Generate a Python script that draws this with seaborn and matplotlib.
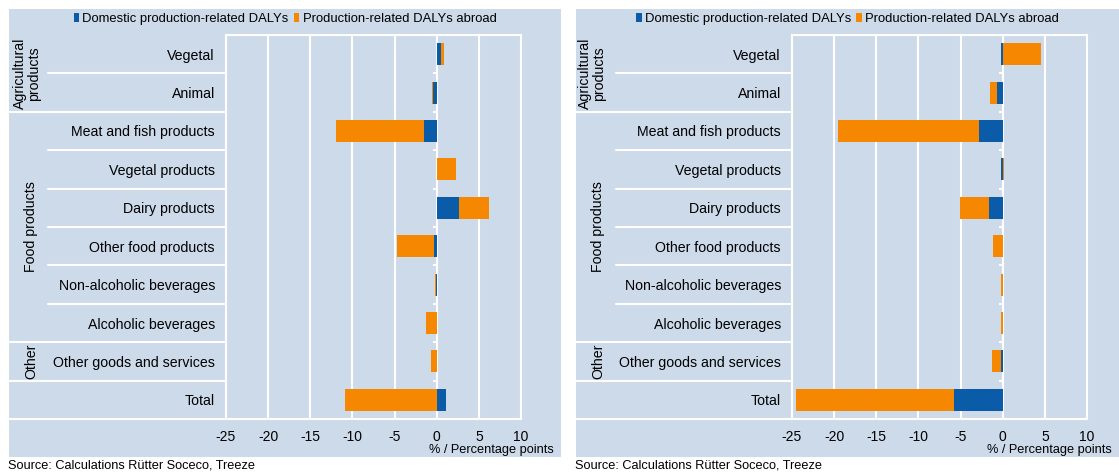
import matplotlib
matplotlib.use("Agg")
import matplotlib.pyplot as plt
import matplotlib.transforms as mtransforms
from matplotlib.patches import Rectangle, Patch
import numpy as np
import pandas as pd
import seaborn as sns

# ---- data (percentage points) ----
categories = [
    "Vegetal", "Animal", "Meat and fish products", "Vegetal products",
    "Dairy products", "Other food products", "Non-alcoholic beverages",
    "Alcoholic beverages", "Other goods and services", "Total",
]
groups = [("Agricultural\nproducts", 0, 1), ("Food products", 2, 7), ("Other", 8, 8)]

left_domestic = [0.5, -0.4, -1.5, 0.05, 2.6, -0.35, -0.03, 0.0, 0.0, 1.1]
left_abroad = [0.4, -0.2, -10.5, 2.2, 3.6, -4.35, -0.17, -1.3, -0.7, -10.9]

right_domestic = [-0.2, -0.7, -2.8, -0.2, -1.65, 0.0, 0.0, 0.0, -0.15, -5.75]
right_abroad = [4.5, -0.8, -16.7, 0.1, -3.4, -1.1, -0.2, -0.2, -1.1, -18.8]

x_ticks = [-25, -20, -15, -10, -5, 0, 5, 10]
series_names = ["Domestic production-related DALYs", "Production-related DALYs abroad"]
source_note = "Source: Calculations Rütter Soceco, Treeze"
x_label = "% / Percentage points"

# ---- style ----
BLUE = "#0a5ca8"
ORANGE = "#f58800"
BG = "#cddaea"
W, H = 1119, 472

sns.set_style("white")
plt.rcParams["font.family"] = ["Liberation Sans", "DejaVu Sans"]
plt.rcParams["axes.unicode_minus"] = False
plt.rcParams["text.color"] = "black"
plt.rcParams["xtick.color"] = "black"
plt.rcParams["ytick.color"] = "black"
plt.rcParams["xtick.labelcolor"] = "black"
plt.rcParams["ytick.labelcolor"] = "black"

fig = plt.figure(figsize=(W / 100, H / 100), dpi=100, facecolor="white")


def px_box(x0, y0, x1, y1):
    """Convert a pixel box (top-left origin) to figure fractions."""
    return [x0 / W, (H - y1) / H, (x1 - x0) / W, (y1 - y0) / H]


def stacked_frame(dom, abr):
    dom = np.asarray(dom, float)
    abr = np.asarray(abr, float)
    same = np.sign(dom) == np.sign(abr)
    # abroad part sits on top of the domestic part when both share a sign
    outer = abr + np.where(same, dom, 0.0)
    return pd.DataFrame({"category": categories, "domestic": dom, "outer": outer})


def draw_panel(panel_px, ax_px, dom, abr, grp_x_two, grp_x_one, sep_short_px, sep_long_px):
    # panel background
    bx = px_box(*panel_px)
    fig.patches.append(Rectangle((bx[0], bx[1]), bx[2], bx[3], transform=fig.transFigure,
                                 facecolor=BG, edgecolor="none", zorder=-5))
    ax = fig.add_axes(px_box(*ax_px))
    ax.set_facecolor(BG)
    df = stacked_frame(dom, abr)

    sns.barplot(data=df, x="outer", y="category", orient="h", color=ORANGE,
                saturation=1, width=0.57, edgecolor="none", ax=ax, zorder=3)
    sns.barplot(data=df, x="domestic", y="category", orient="h", color=BLUE,
                saturation=1, width=0.57, edgecolor="none", ax=ax, zorder=4)

    ax.set_xlim(-25, 10)
    ax.set_ylim(len(categories) - 0.5, -0.5)
    ax.set_xticks(x_ticks)
    ax.set_xticklabels([str(t) for t in x_ticks], fontsize=10)
    ax.set_yticks(range(len(categories)))
    ax.set_yticklabels(categories, fontsize=10.2)
    ax.tick_params(axis="y", length=0, pad=8)
    ax.tick_params(axis="x", length=0, pad=8)
    ax.set_xlabel("")
    ax.set_ylabel("")
    ax.grid(axis="x", color="white", linewidth=1.5, zorder=1)
    ax.set_axisbelow(True)
    for s in ax.spines.values():
        s.set_visible(True)
        s.set_color("white")
        s.set_linewidth(1.5)

    # small ticks on the zero axis at category boundaries
    bounds = np.arange(0.5, len(categories) - 0.5, 1.0)
    ax.hlines(bounds, -0.5, 0, color="white", linewidth=1.5, zorder=2)

    # separators in the label column
    ax_w = ax_px[2] - ax_px[0]
    trans = mtransforms.blended_transform_factory(ax.transAxes, ax.transData)
    group_ends = {g[2] for g in groups}
    for i in range(len(categories)):
        y = i + 0.5
        start_px = sep_long_px if (i in group_ends or i == len(categories) - 1) else sep_short_px
        x0 = (start_px - ax_px[0]) / ax_w
        ax.plot([x0, 0], [y, y], transform=trans, color="white", linewidth=1.5,
                clip_on=False, zorder=2)

    # group labels
    for name, a, b in groups:
        gx = grp_x_two if "\n" in name else grp_x_one
        ax.text((gx - ax_px[0]) / ax_w, (a + b) / 2, name, transform=trans,
                rotation=90, ha="center", va="center", fontsize=10.2,
                linespacing=1.0, multialignment="center")

    # axis caption
    fig.text((panel_px[2] - 7) / W, 1 - 450 / H, x_label, ha="right", va="center",
             fontsize=9.2)

    # legend
    handles = [Patch(facecolor=BLUE, edgecolor="none"), Patch(facecolor=ORANGE, edgecolor="none")]
    cx = (panel_px[0] + panel_px[2]) / 2 / W
    ax.legend(handles, series_names, loc="center", bbox_to_anchor=(cx, 1 - 19 / H),
              bbox_transform=fig.transFigure, ncol=2, frameon=False, fontsize=9.4,
              handlelength=0.42, handleheight=0.7, handletextpad=0.25,
              columnspacing=0.4, borderaxespad=0, borderpad=0)

    # source note
    fig.text((panel_px[0] - 1) / W, 1 - 466 / H, source_note, ha="left", va="center",
             fontsize=9.2)
    return ax


draw_panel((9, 9, 561, 457), (226, 35, 521, 419), left_domestic, left_abroad,
           grp_x_two=27, grp_x_one=31, sep_short_px=48, sep_long_px=9)
draw_panel((576, 9, 1119, 457), (792, 35, 1087, 419), right_domestic, right_abroad,
           grp_x_two=592, grp_x_one=598, sep_short_px=616, sep_long_px=576)

fig.savefig("out.png", dpi=100, facecolor="white")
